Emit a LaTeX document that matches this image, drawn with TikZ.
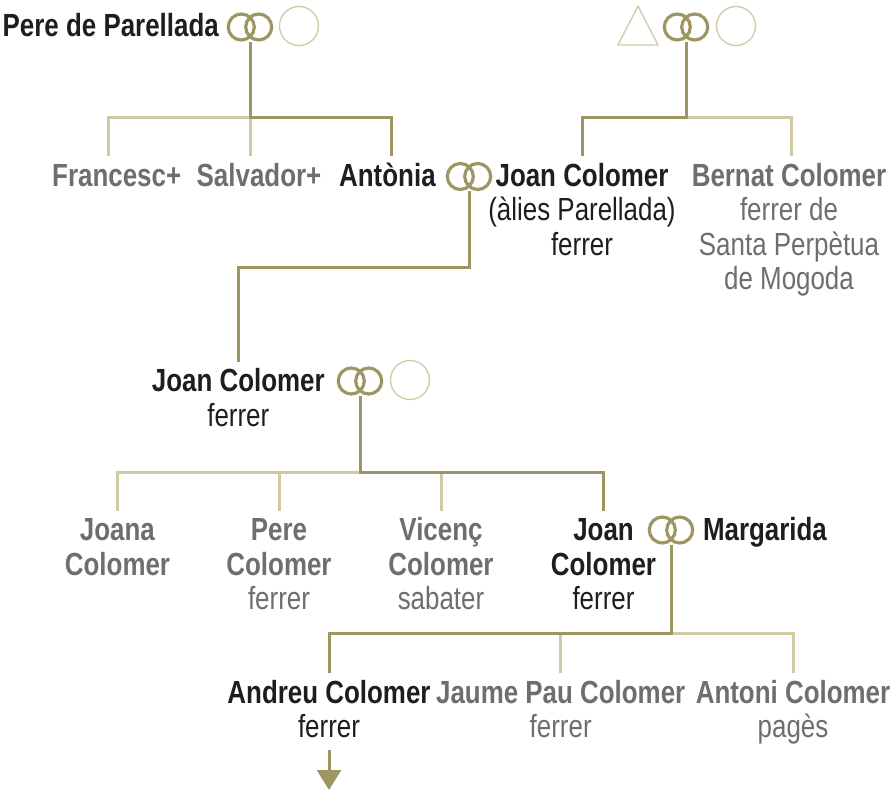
\documentclass[tikz,border=0pt]{standalone}
\usepackage{fontspec}
\setmainfont{Liberation Sans}[FakeStretch=0.81]
\usetikzlibrary{arrows.meta}
\definecolor{lndk}{HTML}{9D9663}
\definecolor{lnlt}{HTML}{CFCAA4}
\definecolor{txdk}{HTML}{1E1E1E}
\definecolor{txgr}{HTML}{6E6E6E}
\newcommand\fsz{\fontsize{32}{34.5}\selectfont}
\newcommand\tp{\vrule height 30pt depth 0pt width 0pt}
\begin{document}
\begin{tikzpicture}[x=1pt,y=-1pt,
 dkline/.style={draw=lndk,line width=3pt},
 ltline/.style={draw=lnlt,line width=3pt},
 person/.style={font=\fsz,align=center,inner sep=0pt,outer sep=0pt,anchor=north},
 known/.style={person,text=txdk},
 other/.style={person,text=txgr},
 unknown/.style={draw=lnlt,line width=1.3pt,circle,minimum size=39pt,inner sep=0pt},
 rings/.pic={\draw[draw=lndk,line width=3.2pt] (-8.7,0) circle[radius=13pt] (8.7,0) circle[radius=13pt]; \coordinate (-s) at (0,15);}
]
\useasboundingbox (0,0) rectangle (894,791);

% generation 1
\node[known,anchor=north east] (pere) at (219,7) {\tp\textbf{Pere de Parellada}};
\pic (r1) at (250,27) {rings};
\node[unknown] (u1) at (299,26) {};
\draw[draw=lnlt,line width=1.3pt] (618,45) -- (638,6) -- (658,45) -- cycle;
\pic (r2) at (686,27) {rings};
\node[unknown] (u2) at (736,26) {};

% generation 2
\node[other] (fra) at (116.7,156.5) {\tp\textbf{Francesc+}};
\node[other] (sal) at (259,156.5) {\tp\textbf{Salvador+}};
\node[known] (ant) at (387.5,156.5) {\tp\textbf{Antònia}};
\pic (r3) at (469,176.5) {rings};
\node[known] (joan1) at (582,156.5) {\tp\textbf{Joan Colomer}\\(àlies Parellada)\\ferrer};
\node[other] (bern) at (789,156.5) {\tp\textbf{Bernat Colomer}\\ferrer de\\Santa Perpètua\\de Mogoda};

% generation 3
\node[known] (joan2) at (238.3,361.7) {\tp\textbf{Joan Colomer}\\ferrer};
\pic (r4) at (360,381) {rings};
\node[unknown] (u3) at (410,380) {};

% generation 4
\node[other] (joana) at (117.5,510.5) {\tp\textbf{Joana}\\\textbf{Colomer}};
\node[other] (pere2) at (279,510.5) {\tp\textbf{Pere}\\\textbf{Colomer}\\ferrer};
\node[other] (vic) at (441,510.5) {\tp\textbf{Vicenç}\\\textbf{Colomer}\\sabater};
\node[known] (joan3) at (603.5,510.5) {\tp\textbf{Joan}\\\textbf{Colomer}\\ferrer};
\pic (r5) at (671,530) {rings};
\node[known,anchor=north west] (marg) at (703,510.5) {\tp\textbf{Margarida}};

% generation 5
\node[known] (andreu) at (329,673) {\tp\textbf{Andreu Colomer}\\ferrer};
\node[other] (jaume) at (560.7,673) {\tp\textbf{Jaume Pau Colomer}\\ferrer};
\node[other] (antoni) at (793,673) {\tp\textbf{Antoni Colomer}\\pagès};

% connectors
\coordinate (b1) at (250,118);
\draw[ltline] ([xshift=-8.7pt]fra.north) |- (b1);
\draw[ltline] (b1) -- (b1 |- sal.north);
\draw[dkline] (r1-s) -- (b1) -| ([xshift=3.5pt]ant.north);

\coordinate (b2) at (686,118);
\draw[ltline] (b2) -| ([xshift=2pt]bern.north);
\draw[dkline] (r2-s) -- (b2) -| (joan1.north);

\coordinate (b3) at (469,268);
\draw[dkline] (r3-s) -- (b3) -| (joan2.north);

\coordinate (b4) at (360,472);
\draw[ltline] (joana.north) |- (b4);
\draw[ltline] (pere2.north) -- (pere2.north |- b4);
\draw[ltline] (vic.north) -- (vic.north |- b4);
\draw[dkline] (r4-s) -- (b4) -| (joan3.north);

\coordinate (b5) at (671,633);
\draw[ltline] (b5) -| (antoni.north);
\draw[ltline] (jaume.north) -- (jaume.north |- b5);
\draw[dkline] (r5-s) -- (b5) -| (andreu.north);

\path (andreu.north) ++(0,77) coordinate (a0);
\draw[dkline,-{Triangle[width=24pt,length=20pt]}] (a0) -- ++(0,40);
\end{tikzpicture}
\end{document}
